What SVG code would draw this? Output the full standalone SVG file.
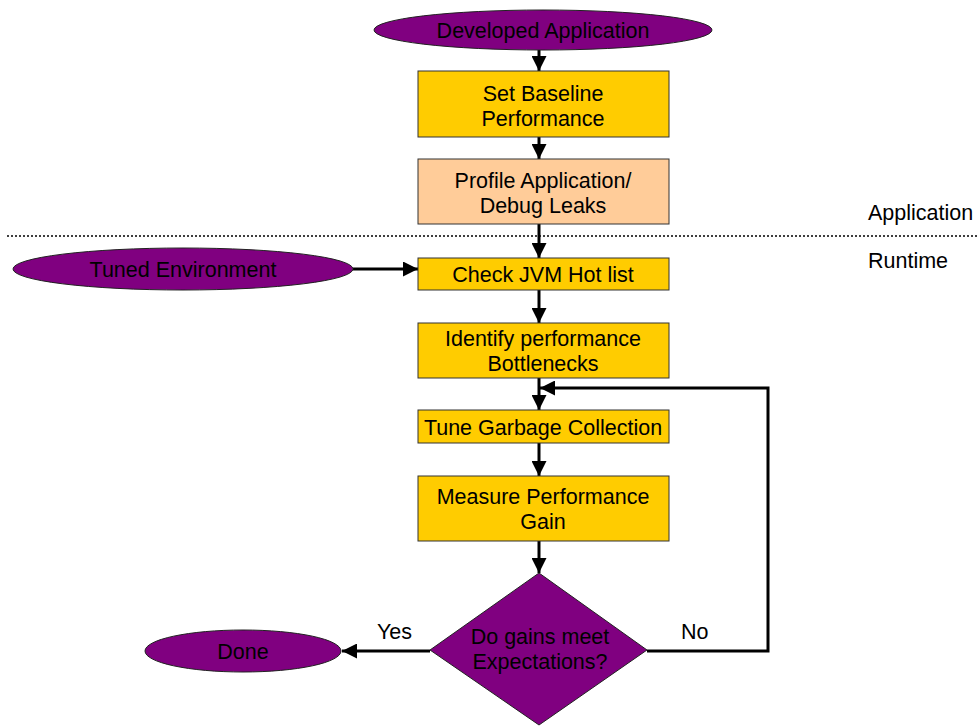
<svg xmlns="http://www.w3.org/2000/svg" width="979" height="726" viewBox="0 0 979 726">
<defs>
<style>
.box{fill:#FFCC00;stroke:#333;stroke-width:1}
.peach{fill:#FFCC99;stroke:#333;stroke-width:1}
.term{fill:#800080;stroke:#222;stroke-width:1}
.t{font-family:"Liberation Sans",Arial,sans-serif;font-size:21.5px;fill:#000;text-anchor:middle}
.lbl{font-family:"Liberation Sans",Arial,sans-serif;font-size:21.5px;fill:#000}
.c{fill:none;stroke:#000;stroke-width:3}
</style>
<marker id="ah" viewBox="0 0 10 10" refX="10" refY="5" markerWidth="5" markerHeight="5" markerUnits="strokeWidth" orient="auto">
<path d="M0,0 L10,5 L0,10 z" fill="#000"/>
</marker>
</defs>
<line x1="7" y1="236" x2="979" y2="236" stroke="#000" stroke-width="1.5" stroke-dasharray="2,2"/>
<text class="lbl" x="868" y="220">Application</text>
<text class="lbl" x="868" y="268">Runtime</text>
<g id="connectors">
<line class="c" x1="539" y1="50" x2="539" y2="71" marker-end="url(#ah)"/>
<line class="c" x1="539" y1="137" x2="539" y2="159" marker-end="url(#ah)"/>
<line class="c" x1="539" y1="224" x2="539" y2="258" marker-end="url(#ah)"/>
<line class="c" x1="353" y1="269" x2="418" y2="269" marker-end="url(#ah)"/>
<line class="c" x1="539" y1="290" x2="539" y2="323" marker-end="url(#ah)"/>
<line class="c" x1="539" y1="378" x2="539" y2="410" marker-end="url(#ah)"/>
<line class="c" x1="539" y1="443" x2="539" y2="476" marker-end="url(#ah)"/>
<line class="c" x1="539" y1="541" x2="539" y2="573" marker-end="url(#ah)"/>
<line class="c" x1="430" y1="651" x2="342" y2="651" marker-end="url(#ah)"/>
<polyline class="c" points="647,651 768,651 768,388 540,388" marker-end="url(#ah)"/>
<text class="lbl" x="377" y="639">Yes</text>
<text class="lbl" x="681" y="639">No</text>
</g>
<g id="developed">
<ellipse class="term" cx="543" cy="30" rx="169" ry="20"/>
<text class="t" x="543" y="38">Developed Application</text>
</g>
<g id="baseline">
<rect class="box" x="418" y="71" width="251" height="66"/>
<text class="t" x="543" y="101">Set Baseline</text>
<text class="t" x="543" y="126">Performance</text>
</g>
<g id="profile">
<rect class="peach" x="418" y="159" width="251" height="65"/>
<text class="t" x="543" y="188">Profile Application/</text>
<text class="t" x="543" y="213">Debug Leaks</text>
</g>
<g id="tuned">
<ellipse class="term" cx="183" cy="269" rx="170" ry="21"/>
<text class="t" x="183" y="277">Tuned Environment</text>
</g>
<g id="hotlist">
<rect class="box" x="418" y="258" width="251" height="32"/>
<text class="t" x="543" y="282">Check JVM Hot list</text>
</g>
<g id="identify">
<rect class="box" x="418" y="323" width="251" height="55"/>
<text class="t" x="543" y="346">Identify performance</text>
<text class="t" x="543" y="371">Bottlenecks</text>
</g>
<g id="gc">
<rect class="box" x="418" y="410" width="251" height="33"/>
<text class="t" x="543" y="435">Tune Garbage Collection</text>
</g>
<g id="measure">
<rect class="box" x="418" y="476" width="251" height="65"/>
<text class="t" x="543" y="504">Measure Performance</text>
<text class="t" x="543" y="529">Gain</text>
</g>
<g id="decision">
<polygon class="term" points="539,573 647,650 539,725 430,650"/>
<text class="t" x="540" y="644">Do gains meet</text>
<text class="t" x="540" y="669">Expectations?</text>
</g>
<g id="done">
<ellipse class="term" cx="243" cy="651" rx="98" ry="21"/>
<text class="t" x="243" y="659">Done</text>
</g>
</svg>
